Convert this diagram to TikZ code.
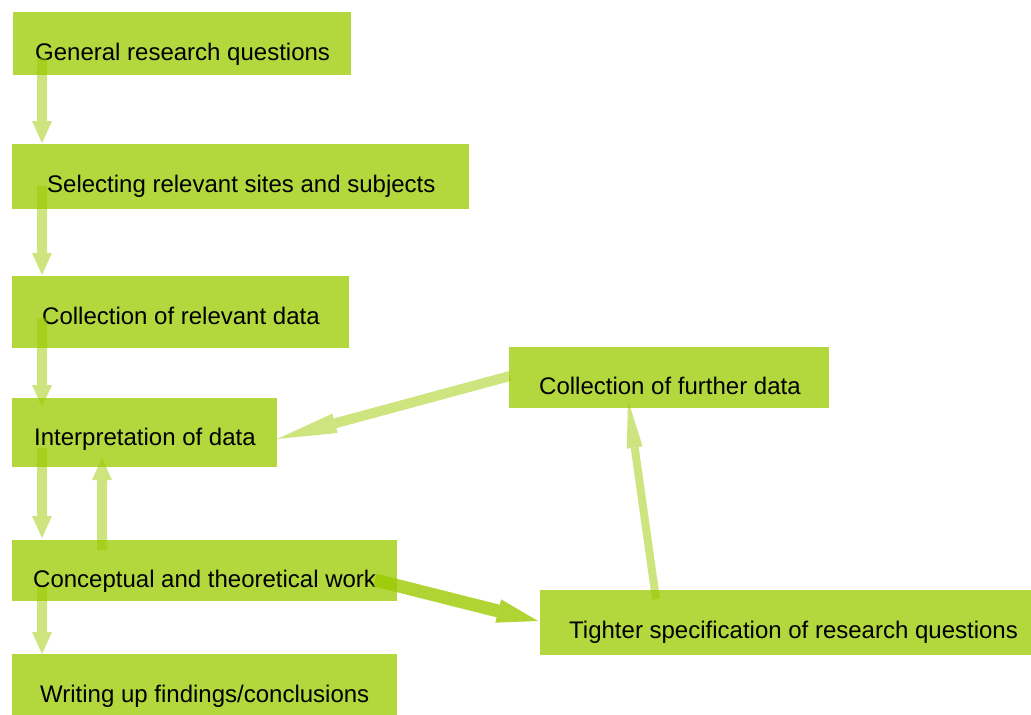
\documentclass[tikz,border=0pt]{standalone}
\usepackage{fontspec}
\setmainfont{Liberation Sans}
\usetikzlibrary{arrows.meta}
\definecolor{boxgreen}{RGB}{178,216,62}
\definecolor{flowgreen}{RGB}{155,201,0}
\tikzset{
  box/.style={fill=boxgreen, draw=none, inner sep=0pt, anchor=north west},
  lbl/.style={anchor=base west, inner sep=0pt, text=black,
              font=\fontsize{24}{28}\selectfont},
  flow/.style={draw=flowgreen, fill=flowgreen, line width=10pt,
               -{Triangle[length=22pt,width=20pt,line width=0pt]}},
}
% one translucent arrow, drawn as a single group so shaft and head do not double up
\newcommand{\flowarrow}[4][0.5]{%
  \begin{scope}[transparency group, opacity=#1]
    \draw[flow,#2] (#3) -- (#4);
  \end{scope}}
\begin{document}
\begin{tikzpicture}[x=1pt,y=-1pt]
\useasboundingbox (0,0) rectangle (1031,715);

% boxes
\node[box, minimum width=338pt, minimum height=63pt] (b1) at (13,12) {};
\node[box, minimum width=457pt, minimum height=65pt] (b2) at (12,144) {};
\node[box, minimum width=337pt, minimum height=72pt] (b3) at (12,276) {};
\node[box, minimum width=265pt, minimum height=69pt] (b4) at (12,398) {};
\node[box, minimum width=385pt, minimum height=61pt] (b5) at (12,540) {};
\node[box, minimum width=385pt, minimum height=61pt] (b6) at (12,654) {};
\node[box, minimum width=320pt, minimum height=61pt] (b7) at (509,347) {};
\node[box, minimum width=491pt, minimum height=65pt] (b8) at (540,590) {};

% labels
\node[lbl] (t1) at (35,60)  {General research questions};
\node[lbl] (t2) at (47,192) {Selecting relevant sites and subjects};
\node[lbl] (t3) at (42,324) {Collection of relevant data};
\node[lbl] (t4) at (34,445) {Interpretation of data};
\node[lbl] (t5) at (33,587) {Conceptual and theoretical work};
\node[lbl] (t6) at (40,702) {Writing up findings/conclusions};
\node[lbl] (t7) at (539,394) {Collection of further data};
\node[lbl] (t8) at (569,638) {Tighter specification of research questions};

% arrow end points
\coordinate (a1s) at (42,58);   \coordinate (a1e) at (42,143);
\coordinate (a2s) at (42,186);  \coordinate (a2e) at (42,275);
\coordinate (a3s) at (42,318);  \coordinate (a3e) at (42,407);
\coordinate (a4s) at (42,448);  \coordinate (a4e) at (42,538);
\coordinate (a5s) at (102,550); \coordinate (a5e) at (102,458);
\coordinate (a6s) at (42,587);  \coordinate (a6e) at (42,654);
\coordinate (a7s) at (510,376); \coordinate (a7e) at (277,439);
\coordinate (a8s) at (375,580); \coordinate (a8e) at (538,621);
\coordinate (a9s) at (656,599); \coordinate (a9e) at (628,400);

% main sequence
\flowarrow{}{a1s}{a1e}
\flowarrow{}{a2s}{a2e}
\flowarrow{}{a3s}{a3e}
\flowarrow{}{a4s}{a4e}
\flowarrow{}{a5s}{a5e}
\flowarrow{}{a6s}{a6e}

% feedback loop
\flowarrow{line width=10pt, -{Triangle[length=60pt,width=20pt,line width=0pt]}}{a7s}{a7e}
\flowarrow[0.8]{line width=13pt, -{Triangle[length=41pt,width=24pt,line width=0pt]}}{a8s}{a8e}
\flowarrow{line width=8pt, -{Triangle[length=48pt,width=16pt,line width=0pt]}}{a9s}{a9e}
\end{tikzpicture}
\end{document}
